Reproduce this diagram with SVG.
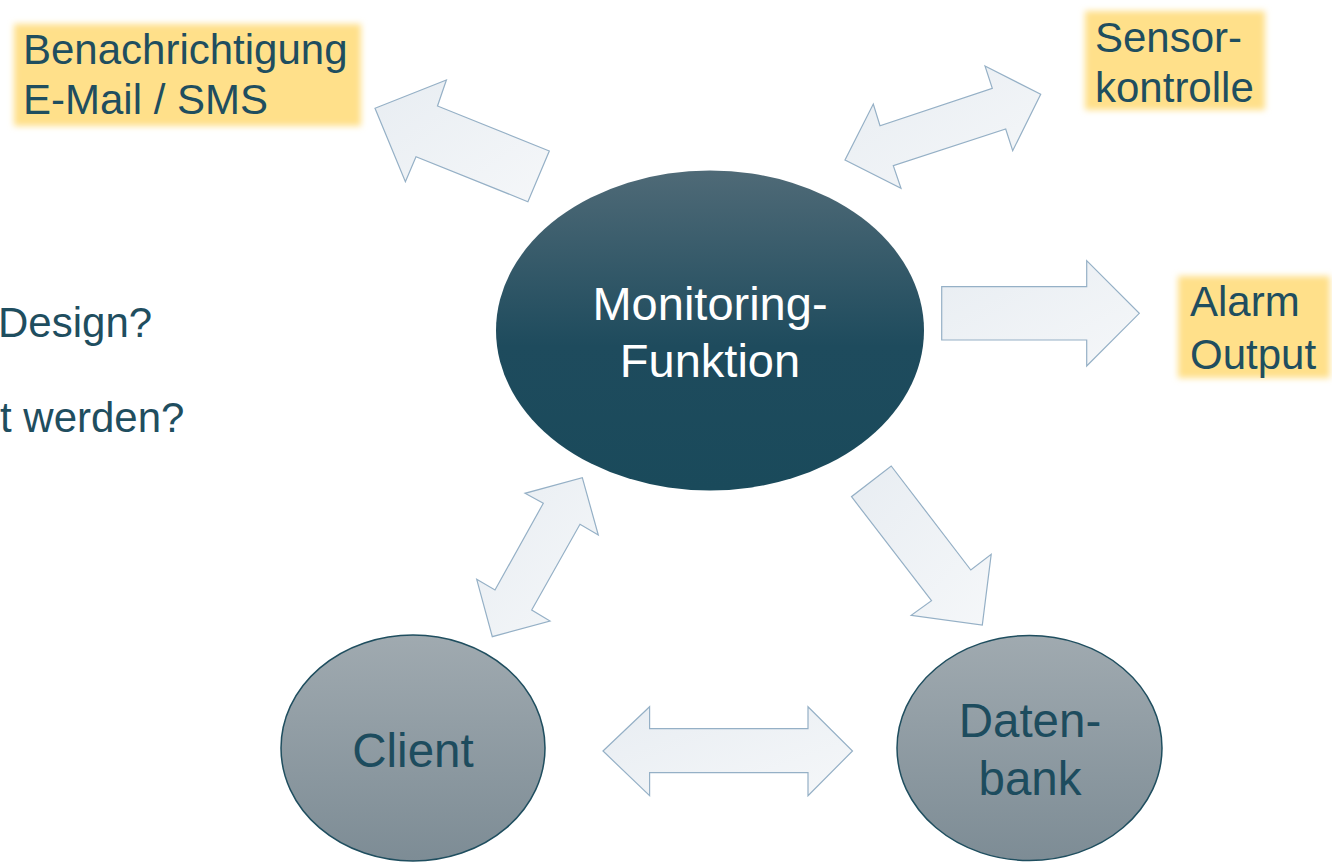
<svg xmlns="http://www.w3.org/2000/svg" width="1332" height="865" viewBox="0 0 1332 865">
<defs>
<linearGradient id="gMain" x1="0" y1="0" x2="0" y2="1">
<stop offset="0" stop-color="#4f6a77"/>
<stop offset="0.55" stop-color="#1e4b5d"/>
<stop offset="1" stop-color="#1a4a5b"/>
</linearGradient>
<linearGradient id="gSmall" x1="0" y1="0" x2="0" y2="1">
<stop offset="0" stop-color="#a0aab0"/>
<stop offset="1" stop-color="#7d8c95"/>
</linearGradient>
<linearGradient id="gArrow" x1="0" y1="0" x2="1" y2="1">
<stop offset="0" stop-color="#e8edf2"/>
<stop offset="1" stop-color="#f5f7f9"/>
</linearGradient>
<filter id="glow" x="-10%" y="-20%" width="120%" height="140%">
<feGaussianBlur stdDeviation="3"/>
</filter>
<style>
.arrow{fill:url(#gArrow);stroke:#95b0c6;stroke-width:1.2;stroke-linejoin:miter}
.lbl{font-family:"Liberation Sans",Arial,sans-serif;font-size:42px;fill:#1f4e5f}
.box{fill:#ffe08a}
.small{fill:url(#gSmall);stroke:#1f4e5f;stroke-width:1.5}
.ntxt{font-family:"Liberation Sans",Arial,sans-serif;font-size:47.5px;fill:#1d4c5e;text-anchor:middle}
.mtxt{font-family:"Liberation Sans",Arial,sans-serif;font-size:47px;fill:#ffffff;text-anchor:middle}
</style>
</defs>
<rect width="1332" height="865" fill="#ffffff"/>

<g id="background-text">
<text class="lbl" x="-2" y="337">Design?</text>
<text class="lbl" x="0" y="432">t werden?</text>
</g>

<g id="connectors">
<polygon class="arrow" points="549.3,151 437.5,106 446.4,80 375,108.3 405.4,181.7 416,156.7 527.9,201.7"/>
<polygon class="arrow" points="985,66 1040.7,94.3 1012.7,150.7 1005.7,129 893.3,165.7 901,188.3 845,160 873.3,104 880,125.7 992.3,88.3"/>
<polygon class="arrow" points="941.7,286.7 1086.7,286.7 1086.7,260.7 1139.3,313.3 1086.7,366 1086.7,340 941.7,340"/>
<polygon class="arrow" points="891.2,466 970.8,570 991.2,554.3 982.3,625 911.2,615.3 931.5,600.7 851.5,496.7"/>
<polygon class="arrow" points="582.3,477.7 598.3,535 580,524.3 531.7,610 550,621 492.3,636.7 476.7,579.3 495,590 543.3,503.3 525,493.3"/>
<polygon class="arrow" points="603,751 649.6,706.7 649.6,728.7 808,728.7 808,706.7 852.5,751 808,795.7 808,772.7 649.6,772.7 649.6,795.7"/>
</g>

<g id="node-monitoring">
<ellipse cx="710" cy="330.5" rx="214" ry="160" fill="url(#gMain)"/>
<text class="mtxt" x="710" y="320">Monitoring-</text>
<text class="mtxt" x="710" y="377">Funktion</text>
</g>

<g id="node-client">
<ellipse class="small" cx="413" cy="748" rx="132" ry="113"/>
<text class="ntxt" x="413" y="767">Client</text>
</g>

<g id="node-datenbank">
<ellipse class="small" cx="1029.5" cy="748" rx="132.5" ry="112.5"/>
<text class="ntxt" x="1030" y="737">Daten-</text>
<text class="ntxt" x="1030" y="795">bank</text>
</g>

<g id="node-benachrichtigung">
<rect class="box" x="14" y="24" width="347" height="102" filter="url(#glow)"/>
<text class="lbl" x="23" y="64">Benachrichtigung</text>
<text class="lbl" x="23" y="114">E-Mail / SMS</text>
</g>

<g id="node-sensor">
<rect class="box" x="1085" y="11" width="180" height="99" filter="url(#glow)"/>
<text class="lbl" x="1095" y="52">Sensor-</text>
<text class="lbl" x="1095" y="102">kontrolle</text>
</g>

<g id="node-alarm">
<rect class="box" x="1178" y="276" width="152" height="102" filter="url(#glow)"/>
<text class="lbl" x="1190" y="316">Alarm</text>
<text class="lbl" x="1190" y="369">Output</text>
</g>
</svg>
